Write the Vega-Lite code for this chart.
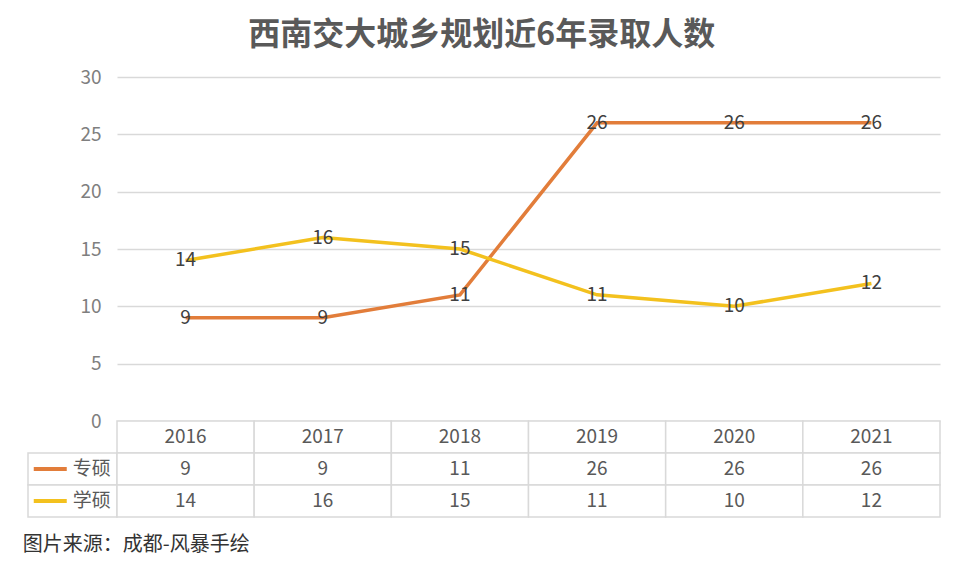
{
  "$schema": "https://vega.github.io/schema/vega-lite/v6.json",
  "background": "white",
  "padding": {"left": 22, "top": 19, "right": 20, "bottom": 10},
  "title": {"text": "西南交大城乡规划近6年录取人数", "fontSize": 32, "fontWeight": "bold", "color": "#595959", "font": "Noto Sans CJK SC", "anchor": "middle", "offset": 16},
  "config": {"view": {"stroke": null}, "font": "Noto Sans CJK SC"},
  "bounds": "flush",
  "spacing": 0,
  "columns": 2,
  "datasets": {
    "series": [
      {"year": "2016", "series": "专硕", "value": 9},
      {"year": "2017", "series": "专硕", "value": 9},
      {"year": "2018", "series": "专硕", "value": 11},
      {"year": "2019", "series": "专硕", "value": 26},
      {"year": "2020", "series": "专硕", "value": 26},
      {"year": "2021", "series": "专硕", "value": 26},
      {"year": "2016", "series": "学硕", "value": 14},
      {"year": "2017", "series": "学硕", "value": 16},
      {"year": "2018", "series": "学硕", "value": 15},
      {"year": "2019", "series": "学硕", "value": 11},
      {"year": "2020", "series": "学硕", "value": 10},
      {"year": "2021", "series": "学硕", "value": 12}
    ],
    "table": [
      {"year": "2016", "row": "header", "label": "2016"},
      {"year": "2017", "row": "header", "label": "2017"},
      {"year": "2018", "row": "header", "label": "2018"},
      {"year": "2019", "row": "header", "label": "2019"},
      {"year": "2020", "row": "header", "label": "2020"},
      {"year": "2021", "row": "header", "label": "2021"},
      {"year": "2016", "row": "专硕", "label": "9"},
      {"year": "2017", "row": "专硕", "label": "9"},
      {"year": "2018", "row": "专硕", "label": "11"},
      {"year": "2019", "row": "专硕", "label": "26"},
      {"year": "2020", "row": "专硕", "label": "26"},
      {"year": "2021", "row": "专硕", "label": "26"},
      {"year": "2016", "row": "学硕", "label": "14"},
      {"year": "2017", "row": "学硕", "label": "16"},
      {"year": "2018", "row": "学硕", "label": "15"},
      {"year": "2019", "row": "学硕", "label": "11"},
      {"year": "2020", "row": "学硕", "label": "10"},
      {"year": "2021", "row": "学硕", "label": "12"}
    ],
    "legend": [
      {"row": "专硕"},
      {"row": "学硕"}
    ]
  },
  "concat": [
    {
      "width": 89, "height": 344,
      "data": {"values": []},
      "mark": {"type": "point", "opacity": 0},
      "encoding": {}
    },
    {
      "width": 823, "height": 344,
      "data": {"name": "series"},
      "encoding": {
        "x": {"field": "year", "type": "ordinal", "scale": {"type": "band", "paddingInner": 0, "paddingOuter": 0}, "axis": null},
        "y": {"field": "value", "type": "quantitative", "scale": {"domain": [0, 30], "nice": false},
          "axis": {"values": [0, 5, 10, 15, 20, 25, 30], "grid": true, "gridColor": "#d9d9d9", "gridWidth": 1.3, "domain": false, "ticks": false, "labelFontSize": 19, "labelColor": "#7f7f7f", "labelPadding": 16, "title": null}},
        "color": {"field": "series", "type": "nominal", "scale": {"domain": ["专硕", "学硕"], "range": ["#E27D3A", "#F3C11E"]}, "legend": null}
      },
      "layer": [
        {"mark": {"type": "line", "strokeWidth": 3.5}},
        {"mark": {"type": "text", "fontSize": 19}, "encoding": {"text": {"field": "value", "type": "quantitative"}, "color": {"value": "#404040"}}}
      ]
    },
    {
      "width": 89, "height": 96,
      "data": {"name": "legend"},
      "title": {"text": "图片来源：成都-风暴手绘", "orient": "bottom", "anchor": "start", "fontSize": 20, "fontWeight": "normal", "color": "#333333", "offset": 17, "dx": -3},
      "encoding": {
        "y": {"field": "row", "type": "ordinal", "scale": {"domain": ["header", "专硕", "学硕"], "paddingInner": 0, "paddingOuter": 0}, "axis": null}
      },
      "layer": [
        {"mark": {"type": "rect", "fill": "white", "stroke": "#d9d9d9", "strokeWidth": 1.5}},
        {"mark": {"type": "point", "shape": "stroke", "size": 1089, "strokeWidth": 4, "filled": false, "opacity": 1},
          "encoding": {
            "x": {"datum": "symbol", "type": "ordinal", "scale": {"domain": ["symbol", "label"], "paddingInner": 0, "paddingOuter": 0}, "axis": null},
            "color": {"field": "row", "type": "nominal", "legend": null}
          }},
        {"mark": {"type": "text", "fontSize": 19, "color": "#595959", "dx": -3},
          "encoding": {
            "x": {"datum": "label", "type": "ordinal", "axis": null},
            "text": {"field": "row", "type": "nominal"}
          }}
      ]
    },
    {
      "width": 823, "height": 96,
      "data": {"name": "table"},
      "encoding": {
        "x": {"field": "year", "type": "ordinal", "scale": {"type": "band", "paddingInner": 0, "paddingOuter": 0}, "axis": null},
        "y": {"field": "row", "type": "ordinal", "scale": {"domain": ["header", "专硕", "学硕"], "paddingInner": 0, "paddingOuter": 0}, "axis": null}
      },
      "layer": [
        {"mark": {"type": "rect", "fill": "white", "stroke": "#d9d9d9", "strokeWidth": 1.5}},
        {"mark": {"type": "text", "fontSize": 19, "color": "#595959"}, "encoding": {"text": {"field": "label", "type": "nominal"}}}
      ]
    }
  ]
}
